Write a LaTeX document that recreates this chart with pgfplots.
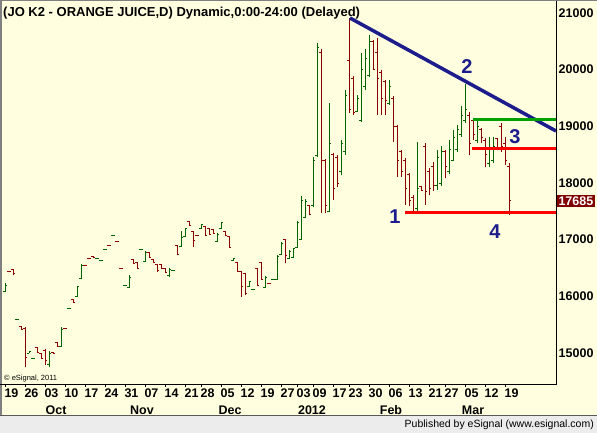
\documentclass[border=0pt]{standalone}
\usepackage{pgfplots}
\pgfplotsset{compat=1.18}
\usepackage{pgfplotstable}
\usepackage{fontspec}
\setmainfont{Liberation Sans}
\definecolor{bgy}{HTML}{FFFFE0}
\definecolor{barG}{HTML}{006400}
\definecolor{barR}{HTML}{8B0000}
\definecolor{navy}{HTML}{1C1C8C}
\definecolor{lnG}{HTML}{00A000}
\definecolor{lnR}{HTML}{FF0000}
\definecolor{boxR}{HTML}{800000}
\definecolor{foot}{HTML}{ECECEC}

% x = trading day (0 = 19 Sep 2011), o h l c
\pgfplotstableread{
x o h l c
-1 16090 16235 16076 16200
2 15600 15600 15600 15600
5 15000 15030 15000 15020
6 14895 14912 14894 14910
10 14800 15035 14753 15000
13 15120 15459 15106 15420
15 15794 15794 15794 15794
17 16000 16182 15988 16170
18 16320 16571 16306 16550
22 16676 16676 16676 16676
23 16641 16641 16641 16641
24 16835 16835 16835 16835
26 17082 17082 17082 17082
29 16200 16200 16200 16200
30 16150 16376 16147 16330
33 16818 16818 16818 16818
34 16620 16800 16606 16780
40 16360 16500 16341 16480
41 16450 16450 16450 16450
43 16880 17153 16871 17047
44 17060 17206 17047 17190
48 17190 17276 17188 17260
52 16970 17118 16959 17100
53 17200 17312 17188 17300
56 16630 16676 16624 16670
60 16170 16271 16165 16260
61 16129 16129 16129 16129
64 16160 16359 16147 16340
66 16306 16306 16306 16306
67 16300 16729 16288 16700
68 16740 16959 16729 16940
70 16670 16818 16659 16800
71 16690 16853 16676 16840
72 16870 17329 16853 17300
73 17010 17771 16994 17700
74 17400 17718 17382 17680
76 17600 18459 17576 18400
77 18480 20471 18459 20400
80 17500 19412 17488 18700
83 18200 18759 18141 18700
84 18550 19641 18494 19550
87 19270 19553 19253 19500
88 19100 20294 19076 20000
89 19700 20365 19641 20200
90 19900 20612 19871 20500
95 19400 19818 19377 19700
102 17550 18724 17453 17910
107 17950 18582 17876 18450
108 18000 18653 17947 18550
110 18200 18759 18159 18600
111 18400 18935 18388 18800
112 18600 19024 18547 18950
113 18850 19359 18812 19200
114 19100 19747 19059 19300
117 18750 19112 18706 19000
120 18350 18812 18282 18600
121 18400 18812 18353 18650
}\greenbars

\pgfplotstableread{
x o h l c
0 16430 16430 16430 16430
1 16470 16482 16376 16400
3 15470 15476 15406 15410
4 15440 15459 14753 14929
7 15100 15106 15000 15010
8 14990 15000 14894 14900
9 15050 15071 14788 14870
11 15015 15018 14982 14985
12 15190 15194 15106 15115
14 15424 15424 15424 15424
16 15950 15953 15882 15890
19 16553 16553 16553 16553
20 16659 16659 16659 16659
21 16710 16712 16676 16680
25 16906 16906 16906 16906
27 16976 16976 16976 16976
28 16500 16500 16500 16500
31 16650 16659 16571 16580
32 16600 16606 16482 16490
35 16780 16782 16676 16690
36 16650 16659 16588 16600
37 16560 16571 16429 16450
38 16560 16571 16482 16500
39 16490 16500 16412 16420
42 16890 16906 16729 16740
45 17320 17329 17241 17250
46 17140 17153 16871 16980
47 17065 17065 17065 17065
49 17230 17241 17065 17080
50 17200 17206 17082 17100
51 17180 17188 17100 17110
54 17150 17153 17065 17080
55 17050 17065 16853 16870
57 16600 16606 16429 16440
58 16430 16447 15988 16165
59 16400 16412 16024 16050
62 16490 16500 16182 16200
63 16600 16606 16288 16300
65 16235 16235 16218 16220
69 17000 17012 16588 16712
75 17600 17612 17435 17450
78 20300 20365 17471 18406
79 18400 18424 17471 17600
81 18500 18529 17700 17900
82 18450 18494 17929 18000
85 20170 20912 19235 19300
86 19850 19888 19200 19250
91 20500 20524 19994 20000
92 20300 20559 19200 19850
93 19950 19994 19200 19500
94 19800 19818 19200 19450
96 19500 19535 18724 19000
97 19000 19024 18106 18400
98 18560 18582 18106 18200
99 18400 18441 17612 17900
100 18150 18176 17594 17700
101 17750 17788 17471 17500
103 17940 17947 17859 17870
104 18650 18706 17612 17850
105 18200 18265 17788 17900
106 18300 18371 17859 17950
109 18550 18582 18088 18300
115 19200 19253 18494 18700
116 19100 19130 18759 18850
118 18950 18971 18706 18800
119 18750 18794 18282 18500
122 18780 18794 18582 18600
123 19000 19059 18547 18650
124 18700 18812 18318 18400
125 18300 18353 17435 17685
}\redbars

\newcommand{\lblfont}{\fontsize{12.5bp}{14bp}\selectfont\bfseries}

\begin{document}
\begin{tikzpicture}
\path[use as bounding box, fill=bgy] (0,0) rectangle (597bp,-433bp);
\fill[foot] (0,-415bp) rectangle (597bp,-433bp);
\draw[black!65, line width=1bp] (0,-415bp) -- (597bp,-415bp);
\node[anchor=base east, inner sep=0pt, font=\fontsize{10.5bp}{12bp}\selectfont] at (594bp,-427bp) {Published by eSignal (www.esignal.com)};

\begin{axis}[
  at={(2bp,-1bp)}, anchor=north west,
  scale only axis, width=554bp, height=383bp,
  xmin=-1.75, xmax=136.75, ymin=14453, ymax=21212,
  axis line style={draw=none},
  clip mode=individual,
  scaled y ticks=false, scaled x ticks=false,
  /pgf/number format/assume math mode=true,
  xtick={-1,4,9,14,19,24,29,34,39,44,48,53,58,63,68,72,76,81,85,90,95,100,105,109,114,119,124},
  xticklabels={19,26,03,10,17,24,31,07,14,21,28,05,12,19,27,03,09,17,23,30,06,13,21,27,05,12,19},
  ytick={15000,16000,17000,18000,19000,20000,21000},
  yticklabels={15000,16000,17000,18000,19000,20000,21000},
  yticklabel pos=right,
  tick align=outside,
  major tick length=2.5bp,
  xtick style={black, line width=0.8bp},
  ytick style={draw=none},
  xticklabel style={font=\lblfont, inner sep=0pt, anchor=north, xshift=6.5bp, yshift=-2bp},
  yticklabel style={font=\lblfont, inner sep=0pt, anchor=west, xshift=0bp},
]
% bars
\addplot[barG, line width=1bp, quiver={u=0,v=\thisrow{h}-\thisrow{l}}] table[x=x,y=l]{\greenbars};
\addplot[barG, line width=1bp, quiver={u=-0.55,v=0}] table[x=x,y=o]{\greenbars};
\addplot[barG, line width=1bp, quiver={u=0.55,v=0}] table[x=x,y=c]{\greenbars};
\addplot[barR, line width=1bp, quiver={u=0,v=\thisrow{h}-\thisrow{l}}] table[x=x,y=l]{\redbars};
\addplot[barR, line width=1bp, quiver={u=-0.55,v=0}] table[x=x,y=o]{\redbars};
\addplot[barR, line width=1bp, quiver={u=0.55,v=0}] table[x=x,y=c]{\redbars};
% drawn lines
\addplot[navy, line width=3.5bp] coordinates {(85.25,20912) (136.75,18918)};
\addplot[lnG, line width=3bp] coordinates {(116,19125) (136.75,19125)};
\addplot[lnR, line width=3bp] coordinates {(115.75,18612) (136.75,18612)};
\addplot[lnR, line width=3bp] coordinates {(99,17476) (136.75,17476)};
% wave labels
\node[navy, font=\fontsize{20bp}{20bp}\selectfont\bfseries] at (axis cs:96.5,17400) {1};
\node[navy, font=\fontsize{20bp}{20bp}\selectfont\bfseries] at (axis cs:114.5,20047) {2};
\node[navy, font=\fontsize{20bp}{20bp}\selectfont\bfseries] at (axis cs:126.5,18812) {3};
\node[navy, font=\fontsize{20bp}{20bp}\selectfont\bfseries] at (axis cs:121.5,17135) {4};
% month labels
\node[font=\lblfont, inner sep=0pt, anchor=base, yshift=-30bp] at (axis cs:11.75,14453) {Oct};
\node[font=\lblfont, inner sep=0pt, anchor=base, yshift=-30bp] at (axis cs:33.25,14453) {Nov};
\node[font=\lblfont, inner sep=0pt, anchor=base, yshift=-30bp] at (axis cs:55.25,14453) {Dec};
\node[font=\lblfont, inner sep=0pt, anchor=base, yshift=-30bp] at (axis cs:75.75,14453) {2012};
\node[font=\lblfont, inner sep=0pt, anchor=base, yshift=-30bp] at (axis cs:95.5,14453) {Feb};
\node[font=\lblfont, inner sep=0pt, anchor=base, yshift=-30bp] at (axis cs:116,14453) {Mar};
\coordinate (pl) at (axis cs:136.75,17685);
\end{axis}

% borders
\draw[black!50, line width=1.5bp] (0.75bp,0) -- (0.75bp,-415bp);
\draw[black!50, line width=1bp] (0,-0.5bp) -- (597bp,-0.5bp);
\draw[black, line width=1bp] (556bp,-1bp) -- (556bp,-384bp) -- (0,-384bp);
% title and notes
\node[anchor=base west, inner sep=0pt, font=\fontsize{13bp}{15bp}\selectfont\bfseries] at (3bp,-16bp) {(JO K2 - ORANGE JUICE,D) Dynamic,0:00-24:00 (Delayed)};
\node[anchor=base west, inner sep=0pt, font=\fontsize{7.5bp}{9bp}\selectfont] at (4bp,-380bp) {\textcopyright{} eSignal, 2011};
% last price box
\node[anchor=west, fill=boxR, text=white, inner sep=1.3bp, font=\lblfont] at ([xshift=1bp]pl) {17685};
\end{tikzpicture}
\end{document}
